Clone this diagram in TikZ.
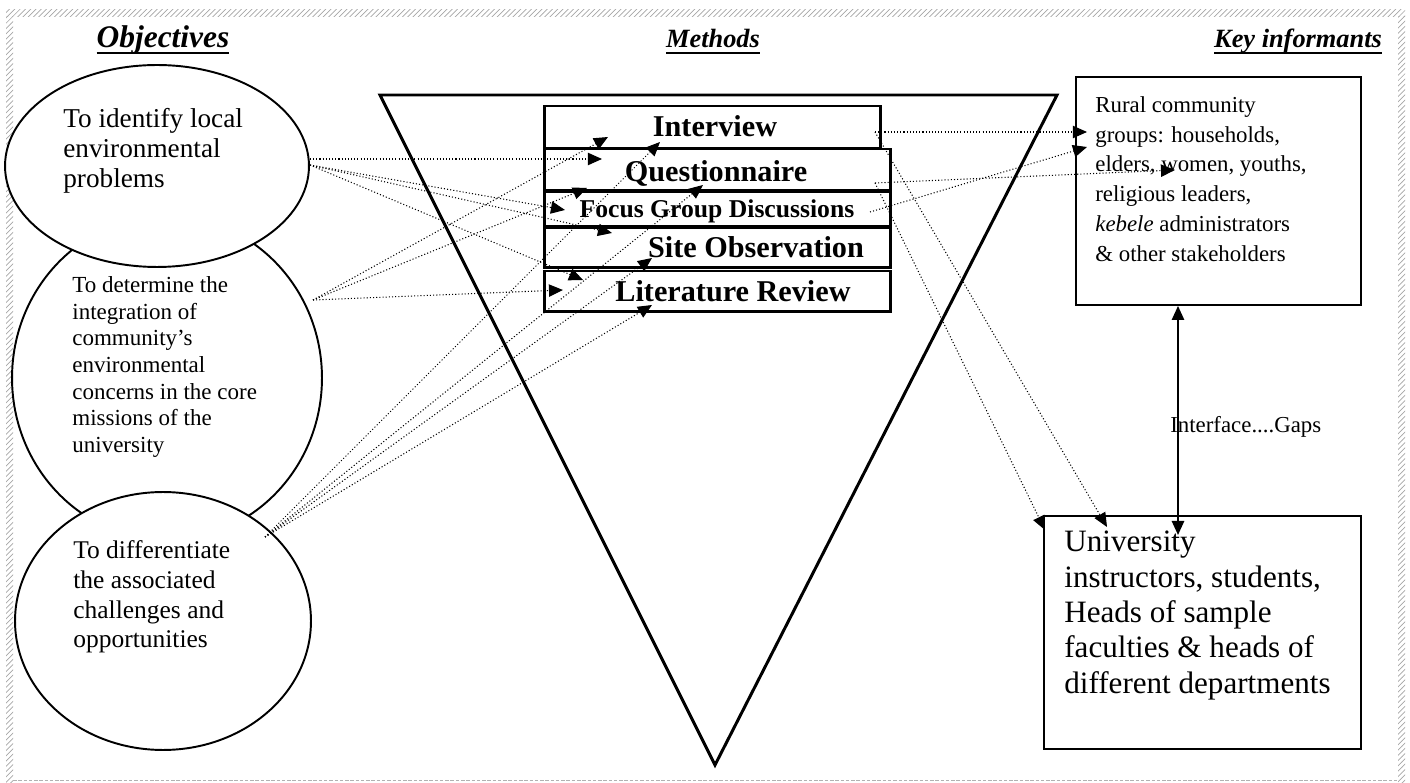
\documentclass[tikz,border=0pt]{standalone}
\usepackage{fontspec}
\setmainfont{Liberation Serif}
\usetikzlibrary{shapes.geometric,arrows.meta,patterns}
\newcommand{\ulhead}[1]{\setbox0\hbox{#1}\rlap{\rule[-3.4pt]{\wd0}{1.1pt}}\box0}

\begin{document}
\begin{tikzpicture}[x=0.02cm,y=-0.02cm,>={Triangle[length=8pt,width=7pt]}]
    \tikzstyle{objective}=[ellipse,draw=black,fill=white,line width=1.1pt,inner sep=0pt]
    \tikzstyle{blocktext}=[align=left,anchor=north west,inner sep=0pt]
    \tikzstyle{method}=[rectangle,draw=black,line width=1.7pt,inner sep=0pt,minimum width=6.94cm]
    \tikzstyle{methodtext}=[font=\fontsize{17.2}{20}\selectfont\bfseries,anchor=base,inner sep=0pt]
    \tikzstyle{informant}=[rectangle,draw=black,line width=1.1pt,inner sep=0pt]
    \tikzstyle{heading}=[font=\fontsize{17.9}{20}\selectfont\bfseries\itshape,anchor=base,inner sep=0pt]
    \tikzstyle{link}=[->,line width=0.6pt,dash pattern=on 0.6pt off 1.2pt]
    \useasboundingbox (0,0) rectangle (1410,783);

    % frame
    \fill[pattern=north east lines,pattern color=gray!70] (6,10) rectangle (1405,17);
    \fill[pattern=north east lines,pattern color=gray!70] (6,17) rectangle (13,783);
    \fill[pattern=north east lines,pattern color=gray!70] (1398,17) rectangle (1405,783);
    \draw[gray!60,line width=0.5pt,dash pattern=on 2pt off 1pt] (13,780) -- (1398,780);

    % headings
    \node[heading] (H-1) at (163,48) {\ulhead{Objectives}};
    \node[heading,font=\fontsize{15}{17}\selectfont\bfseries\itshape] (H-2) at (713,48) {\ulhead{Methods}};
    \node[heading,font=\fontsize{15}{17}\selectfont\bfseries\itshape] (H-3) at (1298,48) {\ulhead{Key informants}};

    % objectives
    \node[objective,minimum width=6.2cm,minimum height=6.48cm] (O-2) at (167,378) {};
    \node[objective,minimum width=5.92cm,minimum height=5.16cm] (O-3) at (163,621) {};
    \node[objective,minimum width=6.08cm,minimum height=4.04cm] (O-1) at (157,166) {};
    \node[blocktext,font=\fontsize{15.5}{17}\selectfont] (O-1-t) at (63,108) {To identify local\\environmental\\problems};
    \node[blocktext,font=\fontsize{13.1}{15.2}\selectfont] (O-2-t) at (72,276) {To determine the\\integration of\\community’s\\environmental\\concerns in the core\\missions of the\\university};
    \node[blocktext,font=\fontsize{14.5}{17}\selectfont] (O-3-t) at (73,540) {To differentiate\\the associated\\challenges and\\opportunities};

    % methods
    \draw[line width=1.7pt] (380,95) -- (1057,95) -- (715,765) -- cycle;
    \node[method,minimum width=6.74cm,minimum height=0.86cm] (M-1) at (712.5,127.5) {};
    \node[method,minimum height=0.84cm] (M-2) at (717.5,170) {};
    \node[method,minimum height=0.70cm] (M-3) at (717.5,209.5) {};
    \node[method,minimum height=0.80cm] (M-4) at (717.5,248) {};
    \node[method,minimum height=0.82cm] (M-5) at (717.5,291.5) {};
    \node[methodtext] (M-1-t) at (715,137) {Interview};
    \node[methodtext] (M-2-t) at (716,182) {Questionnaire};
    \node[methodtext,font=\fontsize{14.6}{17}\selectfont\bfseries] (M-3-t) at (717,218) {Focus Group Discussions};
    \node[methodtext] (M-4-t) at (756,258) {Site Observation};
    \node[methodtext] (M-5-t) at (733,302) {Literature Review};

    % key informants
    \node[informant,minimum width=5.70cm,minimum height=4.56cm] (K-1) at (1218.5,191) {};
    \node[informant,minimum width=6.34cm,minimum height=4.66cm] (K-2) at (1202.5,632.5) {};
    \node[blocktext,font=\fontsize{13}{17}\selectfont] (K-1-t) at (1095,96) {Rural community\\groups: households,\\elders, women, youths,\\religious leaders,\\\textit{kebele} administrators\\\& other stakeholders};
    \node[blocktext,font=\fontsize{17.7}{20.1}\selectfont] (K-2-t) at (1064,531) {University\\instructors, students,\\Heads of sample\\faculties \& heads of\\different departments};
    \node[anchor=base west,inner sep=0pt,font=\fontsize{13}{15}\selectfont] (G-t) at (1170,433) {Interface....Gaps};
    \coordinate (G-1) at (1178,535);
    \draw[<->,line width=1.1pt] (G-1 |- K-1.south) -- (G-1);

    % dotted links
    \coordinate (S-1) at (310,159);
    \coordinate (S-2) at (310,165);
    \coordinate (S-3) at (313,300);
    \coordinate (S-4) at (265,537);
    \coordinate (S-5) at (875,132);
    \coordinate (S-6) at (875,183);
    \coordinate (S-7) at (870,212);
    \coordinate (T-1) at (602,159);
    \coordinate (T-2) at (565,210);
    \coordinate (T-3) at (612,233);
    \coordinate (T-4) at (583,280);
    \coordinate (T-5) at (563,290);
    \coordinate (T-6) at (608,137);
    \coordinate (T-7) at (587,188);
    \coordinate (T-8) at (660,142);
    \coordinate (T-9) at (703,185);
    \coordinate (T-10) at (652,258);
    \coordinate (T-11) at (652,305);
    \coordinate (T-12) at (1087,132);
    \coordinate (T-13) at (1087,147);
    \coordinate (T-14) at (1175,170);
    \coordinate (T-15) at (1107,527);
    \coordinate (T-16) at (1045,530);
    \foreach \from/\to in {S-1/T-1, S-2/T-2, S-2/T-3, S-2/T-4, S-3/T-5, S-3/T-6, S-3/T-7, S-4/T-8, S-4/T-9, S-4/T-10, S-4/T-11, S-5/T-12, S-7/T-13, S-6/T-14, S-5/T-15, S-6/T-16}
        \draw[link] (\from) -- (\to);
\end{tikzpicture}
\end{document}
